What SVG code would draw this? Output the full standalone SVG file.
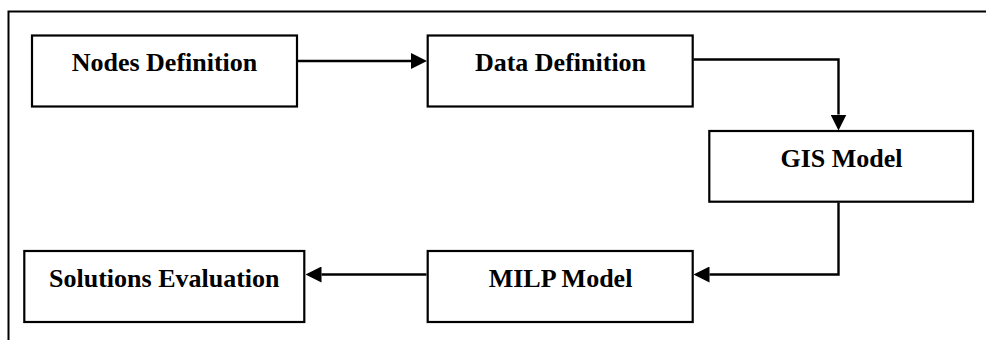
<svg xmlns="http://www.w3.org/2000/svg" width="986" height="340" viewBox="0 0 986 340">
  <style>
    .box { fill: #ffffff; stroke: #000000; stroke-width: 2.2; }
    .label { font-family: "Liberation Serif", "Times New Roman", serif; font-weight: bold; font-size: 26px; fill: #000000; text-anchor: middle; }
    .wire { fill: none; stroke: #000000; stroke-width: 2.4; }
    .frame { fill: none; stroke: #000000; stroke-width: 2; }
  </style>
  <defs>
    <marker id="arrow" viewBox="0 0 16 16" refX="0" refY="8" markerWidth="16" markerHeight="16" markerUnits="userSpaceOnUse" orient="auto">
      <path d="M0,0 L16,8 L0,16 Z" fill="#000000"/>
    </marker>
  </defs>
  <rect width="986" height="340" fill="#ffffff"/>

  <!-- outer frame (open on the right and bottom) -->
  <path class="frame" d="M8.5,340 V11.5 H986"/>

  <g id="nodes-definition">
    <rect class="box" x="32" y="35.5" width="265" height="71"/>
    <text class="label" x="164.5" y="71">Nodes Definition</text>
  </g>

  <g id="data-definition">
    <rect class="box" x="427.7" y="35.5" width="265" height="71"/>
    <text class="label" x="560.5" y="71">Data Definition</text>
  </g>

  <g id="gis-model">
    <rect class="box" x="709.3" y="131" width="263.7" height="70.7"/>
    <text class="label" x="841.5" y="166.7">GIS Model</text>
  </g>

  <g id="milp-model">
    <rect class="box" x="427.7" y="251" width="265" height="71"/>
    <text class="label" x="560.5" y="286.7">MILP Model</text>
  </g>

  <g id="solutions-evaluation">
    <rect class="box" x="24.3" y="251" width="280" height="71"/>
    <text class="label" x="164.3" y="286.7">Solutions Evaluation</text>
  </g>

  <g id="connectors">
    <path class="wire" d="M298,61 H411" marker-end="url(#arrow)"/>
    <path class="wire" d="M693.5,59.5 H838.5 V114.5" marker-end="url(#arrow)"/>
    <path class="wire" d="M838.5,202.5 V274.5 H709.5" marker-end="url(#arrow)"/>
    <path class="wire" d="M426.5,274.5 H321.5" marker-end="url(#arrow)"/>
  </g>
</svg>
